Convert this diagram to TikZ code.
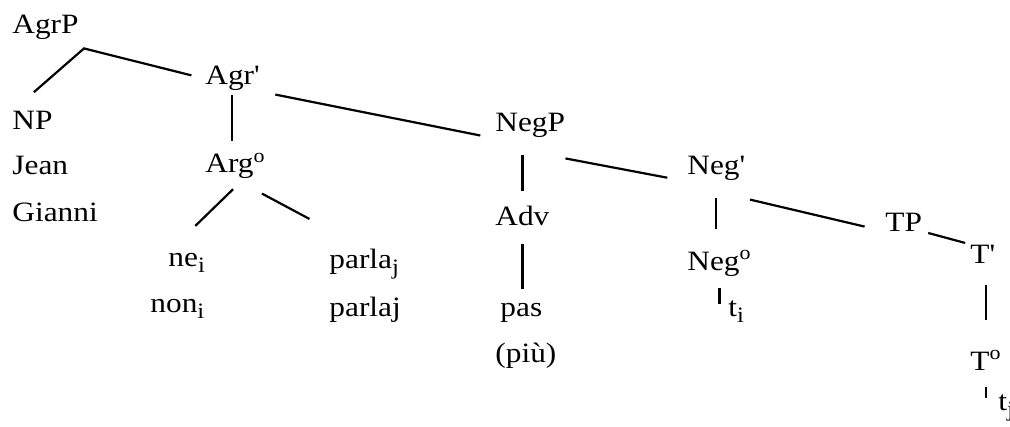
\documentclass[tikz,border=0pt]{standalone}
\usepackage{fontspec}
\setmainfont[FakeStretch=1.12]{Liberation Serif}
\usepackage{tikz}
\newcommand{\lowidx}[1]{\raisebox{-3pt}{\fontsize{11}{12}\selectfont #1}}

\begin{document}
\begin{tikzpicture}[
  x=0.5pt,y=-0.5pt,
  word/.style={anchor=base west, inner sep=0pt, font=\fontsize{14}{16}\selectfont},
  branch/.style={line width=1.1pt, draw=black}
]
\useasboundingbox (0,0) rectangle (1010,427);
\clip (0,0) rectangle (1010,427);
\node[word] (agrp) at (12,34) {AgrP};
\node[word] (np) at (12,130) {NP};
\node[word] (jean) at (12,175) {Jean};
\node[word] (gianni) at (12,221) {Gianni};
\node[word] (agrbar) at (205,85) {Agr\textquotesingle};
\node[word] (argzero) at (205,173) {Arg\textsuperscript{o}};
\node[word] (nei) at (168,266) {ne\lowidx{i}};
\node[word] (noni) at (150,312) {non\lowidx{i}};
\node[word] (parla) at (329,268) {parla\lowidx{j}};
\node[word] (parlaj) at (329,316) {parlaj};
\node[word] (negp) at (495,132) {NegP};
\node[word] (adv) at (495,225) {Adv};
\node[word] (pas) at (500,316) {pas};
\node[word] (piu) at (495,362) {(più)};
\node[word] (negbar) at (687,175) {Neg\textquotesingle};
\node[word] (negzero) at (687,270) {Neg\textsuperscript{o}};
\node[word] (ti) at (728,316) {t\lowidx{i}};
\node[word] (tp) at (885,231) {TP};
\node[word] (tbar) at (970,263) {T\textquotesingle};
\node[word] (tzero) at (970,370) {T\textsuperscript{o}};
\node[word] (tj) at (998,410) {t\lowidx{j}};
\coordinate (fork) at ([shift={(5,8)}]agrp.south east);
\draw[branch, shorten <=14.5pt, shorten >=7pt] (np.north west) -- (fork) -- (agrbar.west);
\draw[branch, shorten <=2pt, shorten >=6pt] (agrbar.south) -- (agrbar.south |- argzero.north);
\draw[branch, shorten <=8pt, shorten >=7.5pt] (agrbar.south east) -- (negp.south west);
\draw[branch, shorten <=7pt, shorten >=19pt] (argzero.-60) -- (nei.north west);
\draw[branch, shorten <=15pt, shorten >=31pt] (argzero.south) -- (parla.north);
\draw[branch, shorten <=8.5pt, shorten >=7pt] (adv.north |- negp.south) -- (adv.north);
\draw[branch, shorten <=9pt, shorten >=6.5pt] (adv.south) -- (adv.south |- pas.north);
\draw[branch, shorten >=10pt] ([yshift=-10pt]negp.south east) -- (negbar.south west);
\draw[branch, shorten <=8.5pt, shorten >=10.5pt] (negbar.south) -- (negbar.south |- negzero.north);
\draw[branch, shorten <=2.5pt, shorten >=10.5pt] ([yshift=-8.5pt]negbar.south east) -- (tp.south west);
\draw[branch, shorten <=3pt, shorten >=2.5pt] (tp.south east) -- (tbar.north west);
\draw[branch, shorten <=11pt, shorten >=14.75pt] (tzero.north |- tbar.south) -- (tzero.north);
\draw[branch, shorten <=6pt, shorten >=3.5pt] (negzero.south) -- (negzero.south |- ti.center);
\draw[branch, shorten <=8.5pt, shorten >=4.5pt] (tzero.south) -- (tzero.south |- tj.center);
\end{tikzpicture}
\end{document}
